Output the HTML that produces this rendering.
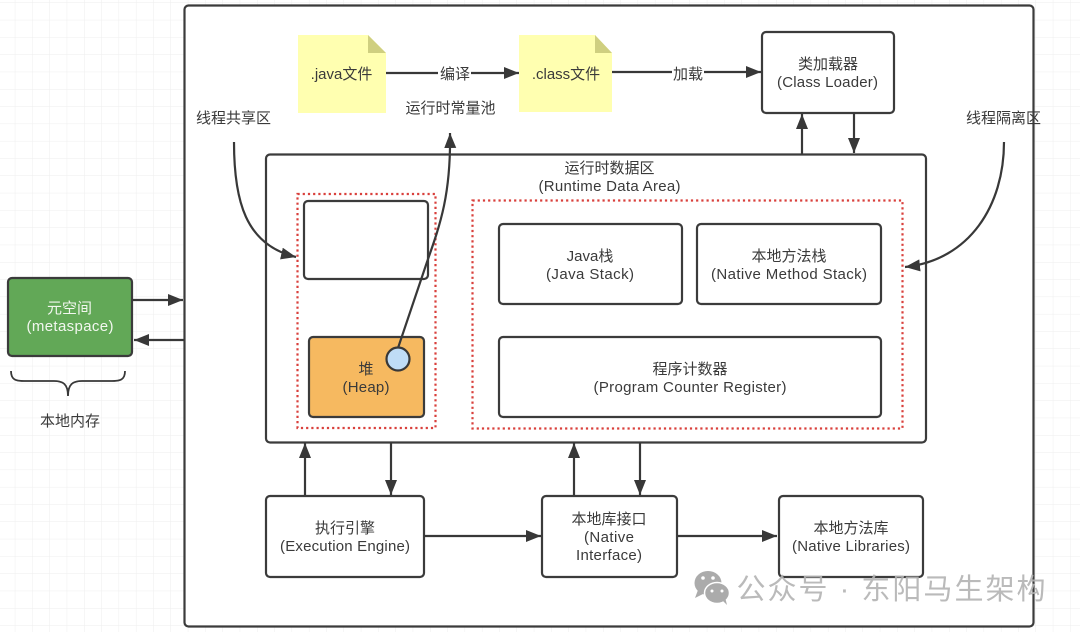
<!DOCTYPE html>
<html lang="zh"><head><meta charset="utf-8"><title>JVM</title>
<style>
html,body{margin:0;padding:0;background:#fff}
svg{display:block}
text{font-family:"Liberation Sans","Noto Sans CJK SC",sans-serif;font-size:15px;fill:#3a3a3a;text-anchor:middle}
.b{fill:#fff;stroke:#3b3b3b;stroke-width:2.2}
.l{fill:none;stroke:#383838;stroke-width:2.2}
.d{fill:none;stroke:#d9403c;stroke-width:2.2;stroke-dasharray:2.2 3}
</style></head><body>
<svg width="1080" height="632" viewBox="0 0 1080 632" xmlns="http://www.w3.org/2000/svg">
<defs>
<pattern id="g" width="17.3" height="17.3" patternUnits="userSpaceOnUse" x="-2" y="3">
<path d="M17.3 0V17.3M0 17.3H17.3" fill="none" stroke="#eeeeee" stroke-width="1"/>
</pattern>
<marker id="a" markerUnits="userSpaceOnUse" markerWidth="16" markerHeight="14" refX="15" refY="6" orient="auto">
<path d="M0 0L15 6L0 12Z" fill="#383838"/>
</marker>
</defs>
<rect width="1080" height="632" fill="#fff"/>
<rect width="1080" height="632" fill="url(#g)"/>

<rect class="b" x="184.500" y="5.500" width="849" height="621" rx="4"/>

<!-- metaspace -->
<rect x="8" y="278" width="124" height="78" rx="4" fill="#62a857" stroke="#3b3b3b" stroke-width="2.2"/>
<text x="69.500" y="313" style="fill:#f2f7ef">元空间</text>
<text x="70" y="331" textLength="87" style="fill:#f2f7ef">(metaspace)</text>
<path class="l" d="M132 300H183" marker-end="url(#a)"/>
<path class="l" d="M184 340H134" marker-end="url(#a)"/>
<path d="M11 371C11 380 16 381 24 381H54C63 381 68 384 68 396C68 384 73 381 82 381H112C120 381 125 380 125 371" fill="none" stroke="#383838" stroke-width="1.800"/>
<text x="70" y="426">本地内存</text>

<!-- files -->
<path d="M298 35H368L386 53V113H298Z" fill="#ffffb0"/>
<path d="M368 35L386 53H368Z" fill="#cfcf80"/>
<text x="341.500" y="79">.java文件</text>
<path d="M519 35H595L612 53V112H519Z" fill="#ffffb0"/>
<path d="M595 35L612 53H595Z" fill="#cfcf80"/>
<text x="566" y="79">.class文件</text>
<path class="l" d="M386 73H438M471 73H519" marker-end="url(#a)"/>
<text x="455" y="79">编译</text>
<text x="450.500" y="113">运行时常量池</text>
<path class="l" d="M612 72H672M704 72H761" marker-end="url(#a)"/>
<text x="688" y="79">加载</text>

<!-- class loader -->
<rect class="b" x="762" y="32" width="132" height="81" rx="4"/>
<text x="828" y="69">类加载器</text>
<text x="827.500" y="87" textLength="101">(Class Loader)</text>
<path class="l" d="M802 154V114" marker-end="url(#a)"/>
<path class="l" d="M854 113V153" marker-end="url(#a)"/>

<text x="233.500" y="123">线程共享区</text>
<text x="1003.500" y="123">线程隔离区</text>

<!-- runtime data area -->
<rect class="b" x="266" y="154.500" width="660" height="288" rx="4"/>
<text x="609.500" y="173">运行时数据区</text>
<text x="609.500" y="191" textLength="142">(Runtime Data Area)</text>

<path class="d" d="M297.500 194H435.500V428H297.500Z"/>
<path class="d" d="M472.500 200.500H902.500V428.500H472.500Z"/>

<rect class="b" x="304" y="201" width="124" height="78" rx="4"/>
<rect x="309" y="337" width="115" height="80" rx="4" fill="#f6b960" stroke="#3b3b3b" stroke-width="2.200"/>
<text x="366" y="374">堆</text>
<text x="366" y="392" textLength="47">(Heap)</text>

<path class="l" d="M398 348L427 262C440 225 451 195 450 133" marker-end="url(#a)"/>
<circle cx="398" cy="359" r="11.500" fill="#bfdcf6" stroke="#383838" stroke-width="2.200"/>

<path class="l" d="M234 142C234 200 245 245 296 257" marker-end="url(#a)"/>
<path class="l" d="M1004 142C1004 205 970 260 905 267" marker-end="url(#a)"/>

<rect class="b" x="499" y="224" width="183" height="80" rx="4"/>
<text x="590" y="261">Java栈</text>
<text x="590" y="279" textLength="88">(Java Stack)</text>
<rect class="b" x="697" y="224" width="184" height="80" rx="4"/>
<text x="789" y="261">本地方法栈</text>
<text x="789" y="279" textLength="156">(Native Method Stack)</text>
<rect class="b" x="499" y="337" width="382" height="80" rx="4"/>
<text x="690" y="374">程序计数器</text>
<text x="690" y="392" textLength="193">(Program Counter Register)</text>

<!-- bottom -->
<path class="l" d="M305 496V443" marker-end="url(#a)"/>
<path class="l" d="M391 443V495" marker-end="url(#a)"/>
<path class="l" d="M574 496V443" marker-end="url(#a)"/>
<path class="l" d="M640 443V495" marker-end="url(#a)"/>
<rect class="b" x="266" y="496" width="158" height="81" rx="4"/>
<text x="345" y="533">执行引擎</text>
<text x="345" y="551" textLength="130">(Execution Engine)</text>
<rect class="b" x="542" y="496" width="135" height="81" rx="4"/>
<text x="609" y="524">本地库接口</text>
<text x="609" y="542" textLength="50">(Native</text>
<text x="609" y="560" textLength="66">Interface)</text>
<rect class="b" x="779" y="496" width="144" height="81" rx="4"/>
<text x="851" y="533">本地方法库</text>
<text x="851" y="551" textLength="118">(Native Libraries)</text>
<path class="l" d="M424 536H541" marker-end="url(#a)"/>
<path class="l" d="M677 536H777" marker-end="url(#a)"/>

<!-- watermark -->
<ellipse cx="708" cy="583" rx="13.500" ry="12" fill="#ababab"/>
<path d="M698 590L695 598L705 593Z" fill="#ababab"/>
<ellipse cx="717" cy="593" rx="12.500" ry="10.500" fill="#ababab" stroke="#fff" stroke-width="1.500"/>
<path d="M723 601L727 605L725 597Z" fill="#ababab"/>
<circle cx="703" cy="578" r="1.800" fill="#fff"/><circle cx="713" cy="578" r="1.800" fill="#fff"/>
<circle cx="712" cy="591" r="1.500" fill="#fff"/><circle cx="722" cy="591" r="1.500" fill="#fff"/>
<text x="891" y="599" textLength="309" style="font-size:29px;fill:#b3b3b3;opacity:.9">公众号 · 东阳马生架构</text>
</svg>
</body></html>
